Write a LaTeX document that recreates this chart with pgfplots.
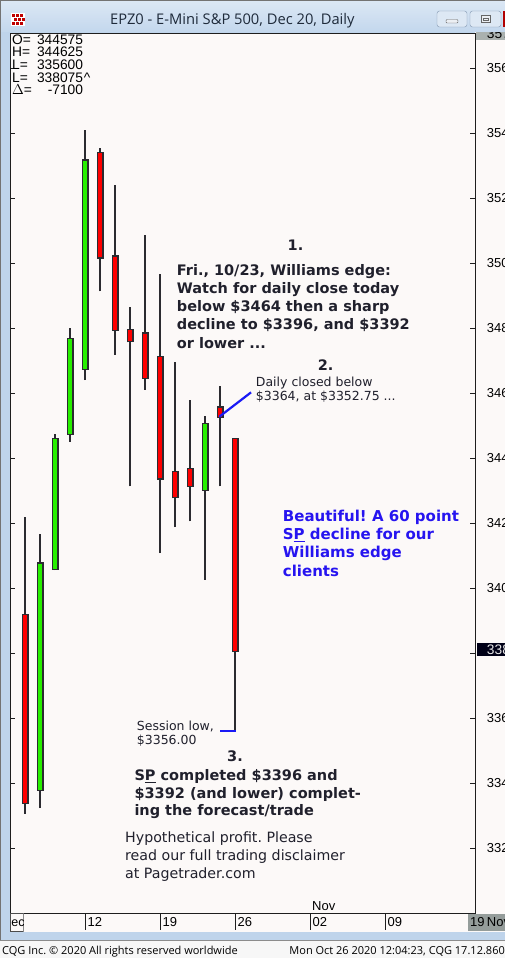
\documentclass[border=0pt]{standalone}
\usepackage{pgfplots}
\pgfplotsset{compat=1.18}
\usepackage{pgfplotstable}
\usepackage{fontspec}
\setmainfont{Liberation Sans}
\newfontfamily\vd{DejaVu Sans}
\newfontfamily\ui{Open Sans}
\frenchspacing
\definecolor{plotbg}{HTML}{FCF9F8}
\definecolor{frame}{HTML}{BFD4EB}
\definecolor{titletop}{HTML}{DCE8F5}
\definecolor{titlebot}{HTML}{C3D7ED}
\definecolor{axisdark}{HTML}{1E1E1E}
\definecolor{wick}{HTML}{2B2B30}
\definecolor{cred}{HTML}{FF0000}
\definecolor{cgreen}{HTML}{28F000}
\definecolor{ink}{HTML}{20202C}
\definecolor{blueT}{HTML}{2614F0}
\definecolor{blueL}{HTML}{1A1AF5}
\definecolor{graybox}{HTML}{959D9B}
\definecolor{titleink}{HTML}{1E2A3A}
\definecolor{btnfill}{HTML}{DDE8F4}
\definecolor{btndraw}{HTML}{8196B0}

% trading-day index: 0 = Oct 6, 4 = Oct 12, 9 = Oct 19, 14 = Oct 26
\pgfplotstableread{
i O H L C
0 3391.75 3421.75 3330.50 3334.00
5 3533.75 3535.50 3491.25 3501.75
6 3502.00 3524.00 3471.75 3479.50
7 3479.25 3486.50 3431.25 3476.00
8 3478.25 3508.50 3461.00 3464.75
9 3471.00 3496.50 3410.75 3433.75
10 3435.75 3469.50 3418.75 3428.00
11 3436.50 3458.00 3420.50 3431.50
13 3455.50 3462.25 3431.25 3452.75
14 3445.75 3446.25 3356.00 3380.75
}\redc
\pgfplotstableread{
i O H L C
1 3338.00 3416.75 3332.25 3407.50
2 3406.00 3447.25 3405.50 3445.75
3 3447.50 3480.00 3445.00 3476.50
4 3467.50 3541.00 3464.00 3531.50
12 3430.25 3453.00 3402.50 3450.50
}\greenc

\pgfplotsset{
  eb/.style 2 args={draw=none, mark=none, forget plot,
    error bars/.cd, y dir=plus, y explicit, error mark=none,
    error bar style={draw=#1, line width=#2}},
}

\tikzset{
  bt/.style={anchor=base west, inner sep=0pt, text=ink, font=\vd\bfseries\fontsize{14.5}{17}\selectfont},
  rt/.style={anchor=base west, inner sep=0pt, text=ink, font=\vd\fontsize{14.2}{17}\selectfont},
  st/.style={anchor=base west, inner sep=0pt, text=ink, font=\vd\fontsize{12.5}{15}\selectfont},
  blt/.style={anchor=base west, inner sep=0pt, text=blueT, font=\vd\bfseries\fontsize{15}{18}\selectfont},
  ar/.style={anchor=base west, inner sep=0pt, text=black, font=\fontsize{13.8}{15}\selectfont},
}

\begin{document}
\begin{tikzpicture}
\useasboundingbox (0,0) rectangle (505pt,-958pt);
\clip (0,0) rectangle (505pt,-958pt);
\begin{scope}[x=1pt,y=-1pt]
  \fill[frame] (0,0) rectangle (505,958);
  \shade[top color=titletop, bottom color=titlebot] (0,0) rectangle (505,32);
  \draw[black!55, line width=1pt] (0.5,958) -- (0.5,0.5) -- (505,0.5);
  % icon
  \fill[white] (11,13) rectangle (25,26);
  \foreach \a/\b in {12/14,16/14,20/14,14/18,18/18,22/18,12/22,16/22,20/22}
    \fill[red!75!black] (\a,\b) rectangle ++(3,3);
  % buttons
  \draw[fill=btnfill, draw=btndraw, rounded corners=2.5pt] (437,11) rectangle (467,27);
  \draw[fill=btnfill, draw=btndraw, rounded corners=2.5pt] (470,11) rectangle (501,27);
  \fill[red!70!black] (503,11) rectangle (505,27);
  \draw[fill=white!85!btndraw, draw=black!60, rounded corners=1pt] (446,19.5) rectangle (458,23);
  \draw[fill=white!85!btndraw, draw=black!60] (481,15.5) rectangle (490,22.5);
  \draw[black!60] (483,18.5) rectangle (488,20.5);
  % title
  \node[anchor=base west, inner sep=0pt, text=titleink, font=\ui\fontsize{14.7}{17}\selectfont] at (110,25) {EPZ0 - E-Mini S\&P 500, Dec 20, Daily};
  % right panel and date bar background
  \fill[plotbg] (475,32) rectangle (505,932);
  % status bar
  \fill[black!3] (0,941) rectangle (505,958);
  \draw[black!45, line width=0.8pt] (0,940.5) -- (505,940.5);
  \node[anchor=base west, inner sep=0pt, text=black, font=\ui\fontsize{11}{13}\selectfont] at (2,954) {CQG Inc. \textcopyright{} 2020 All rights reserved worldwide};
  \node[anchor=base east, inner sep=0pt, text=black, font=\ui\fontsize{11}{13}\selectfont] at (505,954) {Mon Oct 26 2020 12:04:23, CQG 17.12.860};
\end{scope}

% date bar
\begin{axis}[
  at={(10pt,-932pt)}, anchor=south west,
  scale only axis, width=465pt, height=19pt,
  xmin=-1, xmax=30, ymin=0, ymax=1,
  axis background/.style={fill=plotbg},
  axis line style={draw=none},
  ytick=\empty,
  xtick={4,9,14,19,24},
  xticklabels={12,19,26,02,09},
  xtick pos=right, xticklabel pos=left,
  tick align=inside, major tick length=17pt,
  tick style={draw=axisdark, line width=1pt},
  xticklabel style={anchor=base west, inner sep=0pt, xshift=2.5pt, yshift=6pt, font=\fontsize{13}{15}\selectfont},
  /pgf/number format/assume math mode=true,
]
\end{axis}

% main chart
\begin{axis}[
  at={(10pt,-913pt)}, anchor=south west,
  scale only axis, width=465pt, height=880pt,
  xmin=-1, xmax=30, ymin=3300, ymax=3570.77,
  axis background/.style={fill=plotbg},
  axis line style={draw=axisdark, line width=1pt},
  xtick=\empty,
  ytick={3320,3340,3360,3400,3420,3440,3460,3480,3500,3520,3540,3560},
  extra y ticks={3380}, extra y tick labels={},
  minor y tick num=7,
  ytick pos=both, yticklabel pos=right,
  tick align=inside,
  major tick length=5pt, minor tick length=2.7pt,
  tick style={draw=axisdark, line width=0.8pt},
  yticklabel style={anchor=west, inner sep=0pt, xshift=11.7pt, font=\fontsize{13}{15}\selectfont},
  /pgf/number format/.cd, 1000 sep={}, assume math mode=true,
]
% wicks
\addplot[eb={wick}{1.4pt}] table[x=i, y=L, y error expr=\thisrow{H}-\thisrow{L}] {\redc};
\addplot[eb={wick}{1.4pt}] table[x=i, y=L, y error expr=\thisrow{H}-\thisrow{L}] {\greenc};
% body outlines
\addplot[eb={wick}{7pt}] table[x=i, y expr=\thisrow{C}-0.4, y error expr=\thisrow{O}-\thisrow{C}+0.8] {\redc};
\addplot[eb={wick}{7pt}] table[x=i, y expr=\thisrow{O}-0.4, y error expr=\thisrow{C}-\thisrow{O}+0.8] {\greenc};
% body fills
\addplot[eb={cred}{4.4pt}] table[x=i, y=C, y error expr=\thisrow{O}-\thisrow{C}] {\redc};
\addplot[eb={cgreen}{4.4pt}] table[x=i, y=O, y error expr=\thisrow{C}-\thisrow{O}] {\greenc};
% annotation lines
\addplot[blueL, line width=2.2pt, mark=none, forget plot] coordinates {(12.95,3452.7) (15.07,3460.2)};
\addplot[blueL, line width=2.5pt, mark=none, forget plot] coordinates {(13.0,3356) (14.05,3356)};
\end{axis}

\begin{scope}[x=1pt,y=-1pt]
  % OHLC readout
  \node[ar] at (12,44.3) {O=};
  \node[ar] at (12,56.9) {H=};
  \node[ar] at (12,69.5) {L=};
  \node[ar] at (12,82.1) {L=};
  \node[ar] at (12,94.7) {$\Delta$=};
  \node[ar, anchor=base east] at (83.3,44.3) {344575};
  \node[ar, anchor=base east] at (83.3,56.9) {344625};
  \node[ar, anchor=base east] at (83.3,69.5) {335600};
  \node[ar, anchor=base east] at (83.3,82.1) {338075};
  \node[ar] at (83.6,82.1) {\^{}};
  \node[ar, anchor=base east] at (83.3,94.7) {-7100};
  % top-right gray label box
  \begin{scope}
    \clip (476,32.5) rectangle (505,40);
    \fill[graybox!80!white] (476,32.5) rectangle (505,40);
    \node[ar] at (486.7,38) {3570};
  \end{scope}
  % current price box
  \begin{scope}
    \clip (477,643) rectangle (505,656);
    \fill[black!85!blue!60!black] (477,643) rectangle (505,656);
    \node[ar, text=white!90!black] at (486.7,654) {3380.75};
  \end{scope}
  % date bar boxes
  \begin{scope}
    \clip (10,913) rectangle (23.5,931.5);
    \draw[black!70, line width=1pt, fill=plotbg] (10.5,913) rectangle (23.5,931);
    \node[ar, font=\fontsize{12.5}{14}\selectfont] at (11.2,926) {ec};
  \end{scope}
  \fill[graybox] (468,913.5) rectangle (505,931);
  \node[ar, font=\fontsize{13}{15}\selectfont] at (470,926) {19};
  \node[ar, font=\fontsize{13}{15}\selectfont] at (486.7,926) {Nov};
  \node[ar, font=\fontsize{13}{15}\selectfont] at (312,910) {Nov};

  % annotation 1
  \node[bt, anchor=base] at (295.5,250.7) {1.};
  \node[bt] at (176.7,275) {Fri., 10/23, Williams edge:};
  \node[bt] at (176.7,293.3) {Watch for daily close today};
  \node[bt] at (176.7,311.6) {below \$3464 then a sharp};
  \node[bt] at (176.7,329.9) {decline to \$3396, and \$3392};
  \node[bt] at (176.7,348.2) {or lower ...};
  % annotation 2
  \node[bt, anchor=base] at (325.7,370.7) {2.};
  \node[st] at (255.7,386.7) {Daily closed below};
  \node[st] at (255.7,400.7) {\$3364, at \$3352.75 ...};
  % blue text
  \node[blt] at (282.7,521.7) {Beautiful! A 60 point};
  \node[blt] at (282.7,539.8) {S\underline{P} decline for our};
  \node[blt] at (282.7,557.9) {Williams edge};
  \node[blt] at (282.7,576) {clients};
  % session low
  \node[st] at (136.7,730) {Session low,};
  \node[st] at (136.7,744) {\$3356.00};
  % annotation 3
  \node[bt, anchor=base] at (235,761) {3.};
  \node[bt] at (134.3,780.5) {S\underline{P} completed \$3396 and};
  \node[bt] at (134.3,798.2) {\$3392 (and lower) complet-};
  \node[bt] at (134.3,815.9) {ing the forecast/trade};
  % disclaimer
  \node[rt] at (125,842.3) {Hypothetical profit. Please};
  \node[rt] at (125,860.5) {read our full trading disclaimer};
  \node[rt] at (125,878.5) {at Pagetrader.com};
\end{scope}
\end{tikzpicture}
\end{document}
